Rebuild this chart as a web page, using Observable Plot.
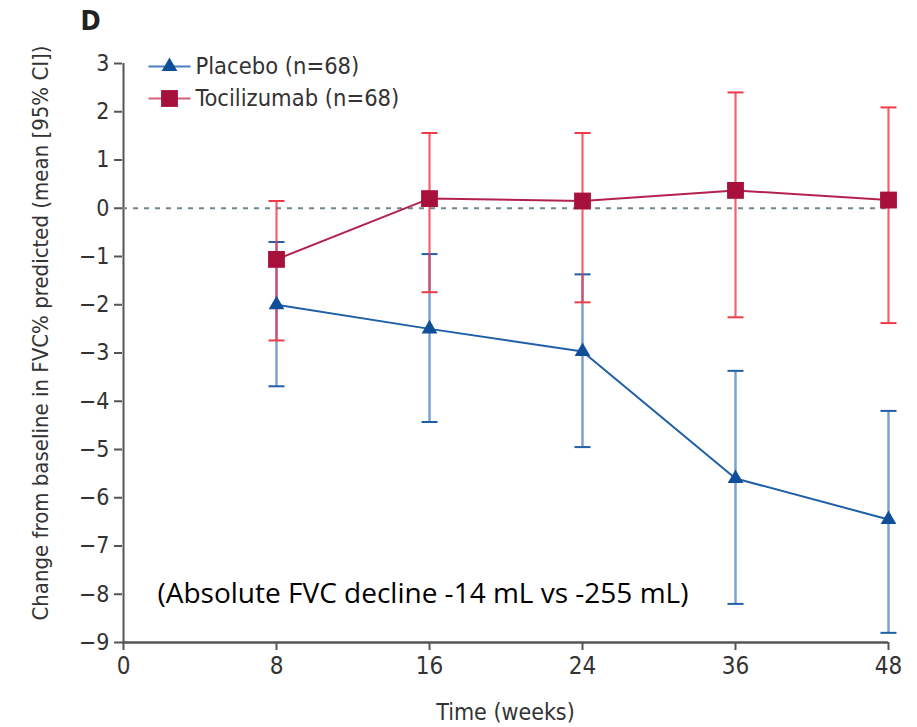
<!DOCTYPE html>
<html>
<head>
<meta charset="utf-8">
<script src="https://cdn.jsdelivr.net/npm/d3@7"></script>
<script src="https://cdn.jsdelivr.net/npm/@observablehq/plot@0.6"></script>
<style>
  html, body { margin: 0; padding: 0; background: #fff; }
  #chart svg { font-family: "Liberation Sans Narrow", "DejaVu Sans Condensed", "Roboto Condensed", sans-serif; font-stretch: condensed; }
  #chart svg text.note { font-stretch: normal; }
</style>
</head>
<body>
<div id="chart"></div>
<script>
// ---- data ----
const xTicks = ["0", "8", "16", "24", "36", "48"];
const yTicks = [-9, -8, -7, -6, -5, -4, -3, -2, -1, 0, 1, 2, 3];
const weeks = ["8", "16", "24", "36", "48"];
const placeboMean = [-2.0, -2.5, -2.97, -5.6, -6.45];
const placeboLow  = [-3.69, -4.43, -4.95, -8.2, -8.8];
const placeboHigh = [-0.7, -0.95, -1.37, -3.37, -4.2];
const tociMean = [-1.06, 0.2, 0.15, 0.37, 0.17];
const tociLow  = [-2.74, -1.74, -1.95, -2.26, -2.38];
const tociHigh = [0.15, 1.56, 1.56, 2.4, 2.09];
const seriesNames = ["Placebo (n=68)", "Tocilizumab (n=68)"];
const panelLabel = "D";
const yLabel = "Change from baseline in FVC% predicted (mean [95% CI])";
const xLabel = "Time (weeks)";
const note = "(Absolute FVC decline -14 mL vs -255 mL)";

// ---- build tables ----
const placebo = weeks.map((w, i) => ({week: w, mean: placeboMean[i], lo: placeboLow[i], hi: placeboHigh[i]}));
const toci = weeks.map((w, i) => ({week: w, mean: tociMean[i], lo: tociLow[i], hi: tociHigh[i]}));

const blue = "#1f5fa8", blueBar = "#4f82c2";
const red = "#a8103c", redLine = "#b3214d", redBar = "#ef3a48";

const cap = {draw(ctx) { ctx.moveTo(-8, 0); ctx.lineTo(8, 0); }};
const legendLine = {draw(ctx) { ctx.moveTo(-21, 0); ctx.lineTo(21, 0); }};

const fmt = d => d < 0 ? "\u2212" + Math.abs(d) : String(d);

const chart = Plot.plot({
  width: 917,
  height: 727,
  marginTop: 63,
  marginBottom: 85,
  marginLeft: 122,
  marginRight: 29,
  x: {type: "point", domain: xTicks, padding: 0},
  y: {domain: [-9, 3]},
  marks: [
    // axes
    Plot.axisY({ticks: yTicks, tickFormat: fmt, tickSize: 8, tickPadding: 5, fontSize: 23, label: null, stroke: "#555", strokeWidth: 2, color: "#333"}),
    Plot.axisX({ticks: xTicks, tickSize: 8, tickPadding: 6, fontSize: 24, label: null, stroke: "#555", strokeWidth: 2, color: "#333"}),
    Plot.ruleX(["0"], {y1: -9, y2: 3, stroke: "#555", strokeWidth: 2}),
    Plot.ruleY([-9], {stroke: "#555", strokeWidth: 2.5}),
    // zero reference
    Plot.ruleY([0], {stroke: "#70868e", strokeWidth: 2, strokeDasharray: "5,6"}),
    // error bars placebo
    Plot.ruleX(placebo, {x: "week", y1: "lo", y2: "hi", stroke: blueBar, strokeWidth: 2.5, strokeOpacity: 0.75}),
    Plot.dot(placebo, {x: "week", y: "lo", symbol: cap, stroke: blue, strokeWidth: 2, fill: "none"}),
    Plot.dot(placebo, {x: "week", y: "hi", symbol: cap, stroke: blue, strokeWidth: 2, fill: "none"}),
    // error bars toci
    Plot.ruleX(toci, {x: "week", y1: "lo", y2: "hi", stroke: redBar, strokeWidth: 2.2, strokeOpacity: 0.8}),
    Plot.dot(toci, {x: "week", y: "lo", symbol: cap, stroke: redBar, strokeWidth: 2, fill: "none"}),
    Plot.dot(toci, {x: "week", y: "hi", symbol: cap, stroke: redBar, strokeWidth: 2, fill: "none"}),
    // lines
    Plot.line(placebo, {x: "week", y: "mean", stroke: blue, strokeWidth: 2}),
    Plot.line(toci, {x: "week", y: "mean", stroke: redLine, strokeWidth: 2}),
    // markers
    Plot.dot(placebo, {x: "week", y: "mean", symbol: "triangle2", r: 7.5, fill: "#0f4f9a", stroke: "none"}),
    Plot.dot(toci, {x: "week", y: "mean", symbol: "square", r: 9.5, fill: red, stroke: "none"}),
    // legend
    Plot.dot([seriesNames[0]], {frameAnchor: "top-left", dx: 47, dy: 3, symbol: legendLine, stroke: "#4a7fbf", strokeWidth: 2, fill: "none"}),
    Plot.dot([seriesNames[0]], {frameAnchor: "top-left", dx: 47, dy: 3, symbol: "triangle2", r: 7.5, fill: "#0f4f9a", stroke: "none"}),
    Plot.dot([seriesNames[1]], {frameAnchor: "top-left", dx: 47, dy: 35, symbol: legendLine, stroke: "#d4607c", strokeWidth: 2, fill: "none"}),
    Plot.dot([seriesNames[1]], {frameAnchor: "top-left", dx: 47, dy: 35, symbol: "square", r: 9.5, fill: red, stroke: "none"}),
    Plot.text([seriesNames[0]], {text: d => d, frameAnchor: "top-left", dx: 73, dy: 3, textAnchor: "start", lineAnchor: "middle", fontSize: 23.5, fill: "#333"}),
    Plot.text([seriesNames[1]], {text: d => d, frameAnchor: "top-left", dx: 73, dy: 35, textAnchor: "start", lineAnchor: "middle", fontSize: 23.5, fill: "#333"}),
    // panel label
    Plot.text([panelLabel], {text: d => d, frameAnchor: "top-left", dx: -32, dy: -42, textAnchor: "middle", lineAnchor: "middle", fontSize: 27, fontWeight: "bold", fill: "#222"}),
    // axis titles
    Plot.text([yLabel], {text: d => d, frameAnchor: "left", dx: -82, dy: -20, rotate: -90, textAnchor: "middle", lineAnchor: "middle", fontSize: 22, fill: "#333"}),
    Plot.text([xLabel], {text: d => d, frameAnchor: "bottom", dx: 0, dy: 70, textAnchor: "middle", lineAnchor: "middle", fontSize: 23, fill: "#333"}),
    // note
    Plot.text([note], {text: d => d, frameAnchor: "bottom-left", dx: 35, dy: -48, textAnchor: "start", lineAnchor: "middle", fontSize: 28, fill: "#000", fontFamily: "'Open Sans', Lato, sans-serif"})
  ]
});
// keep the annotation at normal width
chart.querySelectorAll("text").forEach(t => { if (t.textContent === note) { t.classList.add("note"); t.style.fontStretch = "normal"; } });
document.getElementById("chart").append(chart);
</script>
</body>
</html>
